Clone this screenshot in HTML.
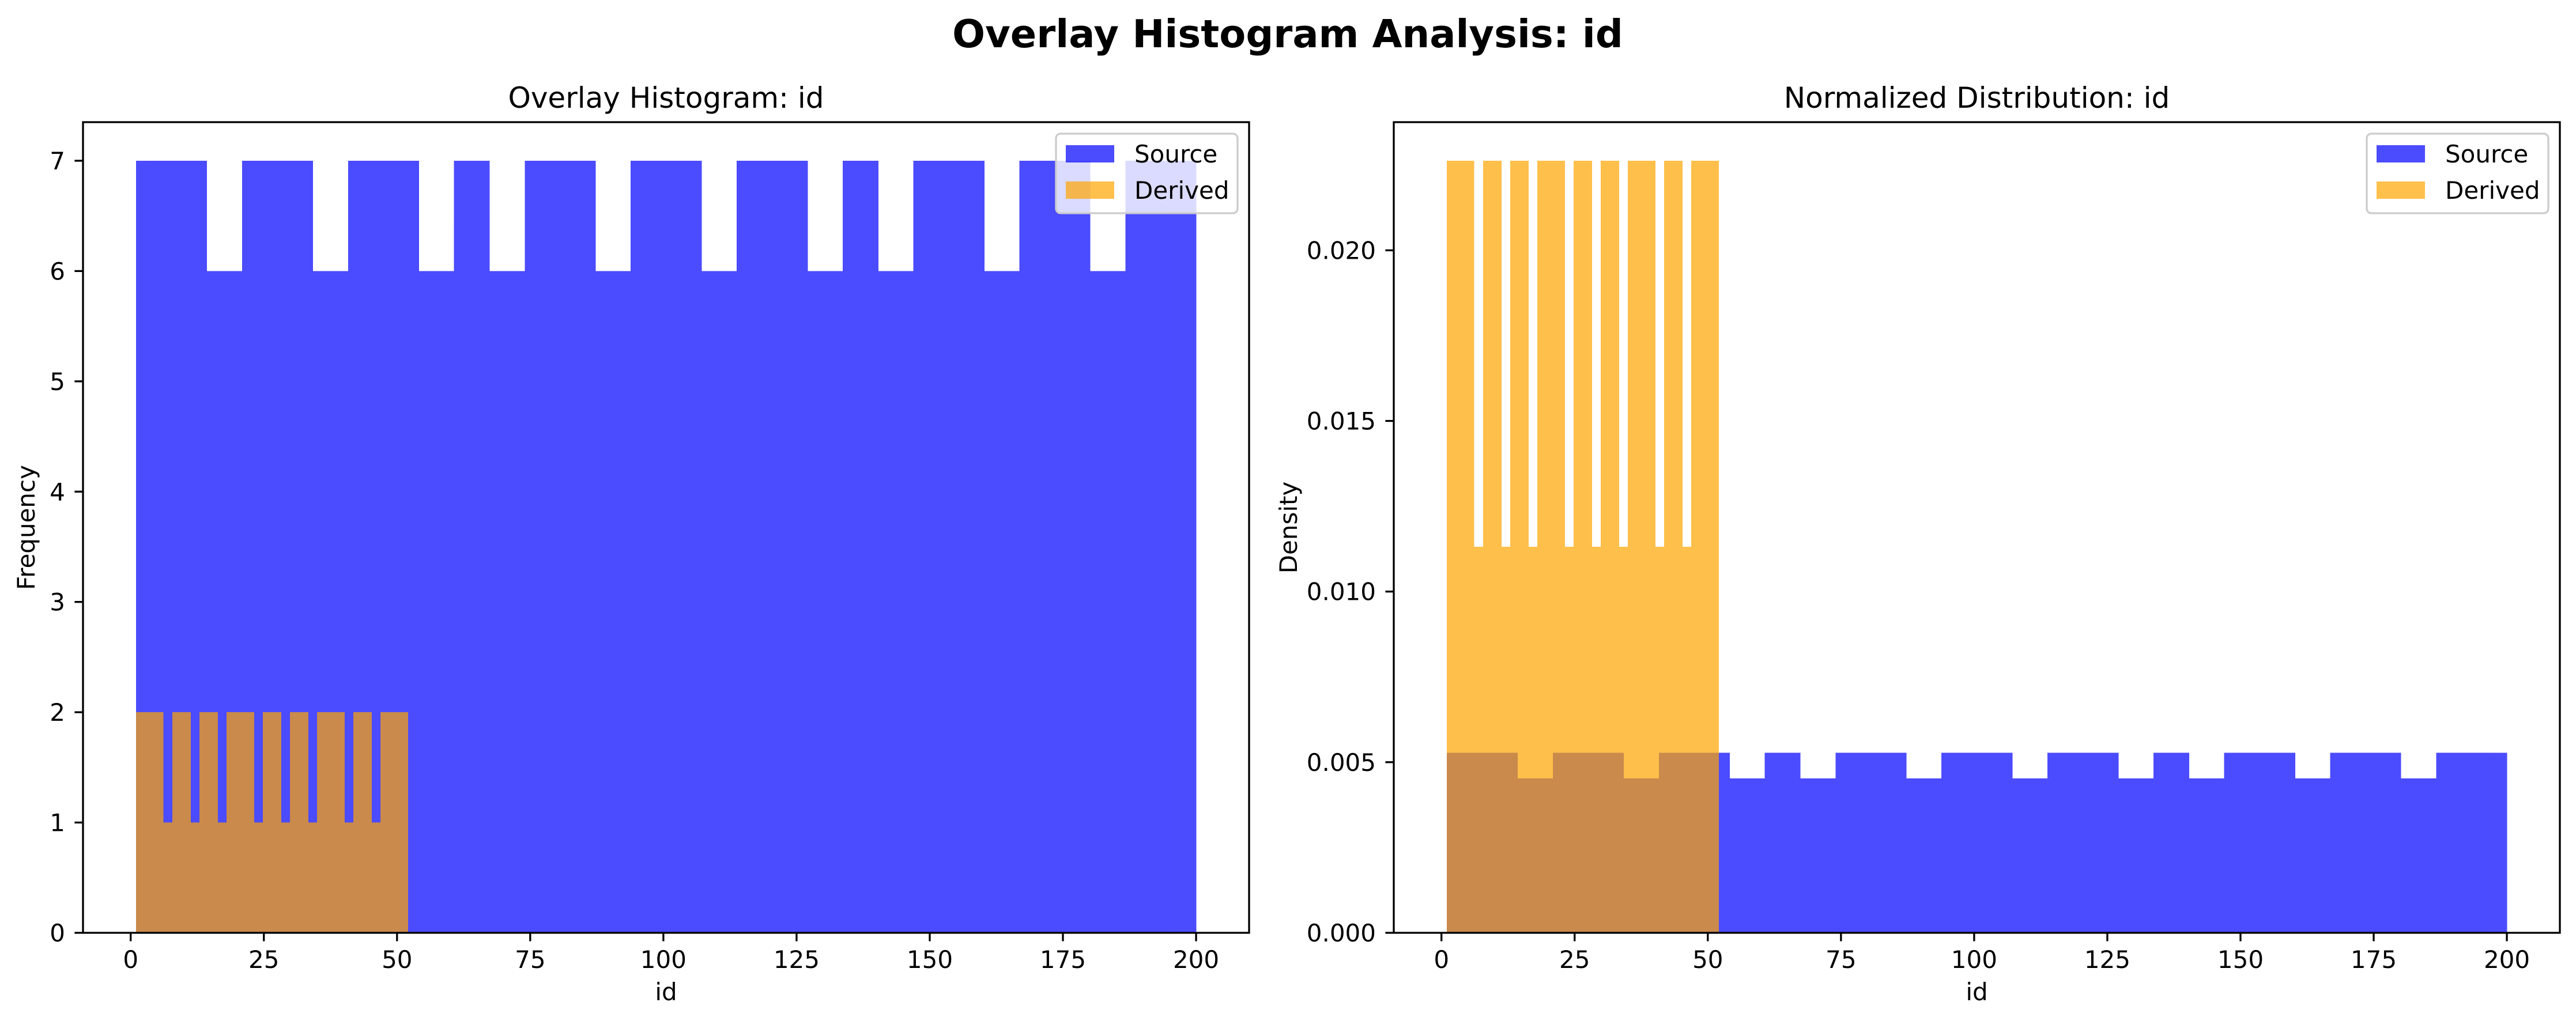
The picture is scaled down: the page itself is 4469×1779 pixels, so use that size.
<!DOCTYPE html>
<html><head><meta charset="utf-8"><style>html,body{margin:0;padding:0;background:#fff}svg{display:block}text{font-family:"DejaVu Sans","Liberation Sans",sans-serif;fill:#000}</style></head>
<body>
<svg id="fig" xmlns="http://www.w3.org/2000/svg" width="4469" height="1779" viewBox="0 0 4469 1779">
<rect width="4469" height="1779" fill="#fff"/>
<text x="2234" y="82" font-size="67" font-weight="bold" text-anchor="middle">Overlay Histogram Analysis: id</text>
<g id="left"></g>
<g id="right"></g>
</svg>
<script>
// Data
const sourceCounts = [7,7,6,7,7,6,7,7,6,7,6,7,7,6,7,7,6,7,7,6,7,6,7,7,6,7,7,6,7,7];
const derivedCounts = [2,2,2,1,2,2,1,2,2,1,2,2,2,1,2,2,1,2,2,1,2,2,2,1,2,2,1,2,2,2];
const sourceRange = [1,200];
const derivedRange = [1,52];
const sourceN = 200;
const derivedN = 52;
const xTicks = [0,25,50,75,100,125,150,175,200];
const yTicksLeft = [0,1,2,3,4,5,6,7];
const yTicksRight = [0,0.005,0.010,0.015,0.020];
const yTickLabelsRight = ["0.000","0.005","0.010","0.015","0.020"];
const legendLabels = ["Source","Derived"];

const NS="http://www.w3.org/2000/svg";
function mk(parent,tag,attrs){const e=document.createElementNS(NS,tag);for(const k in attrs)e.setAttribute(k,attrs[k]);parent.appendChild(e);return e;}

function panel(g,left,right,title,ylabel,ylabelX,density,yTicks,yLabels){
  const top=212,bottom=1619;
  const nb=sourceCounts.length;
  const sw=(sourceRange[1]-sourceRange[0])/nb, dw=(derivedRange[1]-derivedRange[0])/derivedCounts.length;
  const sv=sourceCounts.map(c=>density?c/(sourceN*sw):c);
  const dv=derivedCounts.map(c=>density?c/(derivedN*dw):c);
  const ymax=Math.max(...sv,...dv)*1.05;
  const xmin=sourceRange[0]-0.05*(sourceRange[1]-sourceRange[0]), xmax=sourceRange[1]+0.05*(sourceRange[1]-sourceRange[0]);
  const X=v=>left+(v-xmin)/(xmax-xmin)*(right-left);
  const Y=v=>bottom-v/ymax*(bottom-top);
  const sg=mk(g,'g',{opacity:0.7,fill:'#0000ff','shape-rendering':'crispEdges'});
  
  
  sv.forEach((v,i)=>{
    const x0=X(sourceRange[0]+i*sw), x1=X(sourceRange[0]+(i+1)*sw);
    const r=mk(sg,'rect',{x:x0,y:Y(v),width:x1-x0+0.6,height:bottom-Y(v)});
    
    
  });
  const dg=mk(g,'g',{opacity:0.7,fill:'#ffa500','shape-rendering':'crispEdges'});
  
  
  dv.forEach((v,i)=>{
    const x0=X(derivedRange[0]+i*dw), x1=X(derivedRange[0]+(i+1)*dw);
    const r=mk(dg,'rect',{x:x0,y:Y(v),width:x1-x0+0.6,height:bottom-Y(v)});
    
    
  });
  const fr=mk(g,'rect',{x:left,y:top,width:right-left,height:bottom-top,fill:'none',stroke:'#000','stroke-width':3.3});
  
  
  xTicks.forEach(t=>{
    const x=X(t);
    const l=mk(g,'line',{x1:x,x2:x,y1:bottom,y2:bottom+14.6,stroke:'#000','stroke-width':3.3});
    
    
    const tx=mk(g,'text',{x:x,y:1680,'font-size':42,'text-anchor':'middle'});
    tx.textContent=t;
    
    
  });
  yTicks.forEach((t,i)=>{
    const y=Y(t);
    const l=mk(g,'line',{x1:left-14.6,x2:left,y1:y,y2:y,stroke:'#000','stroke-width':3.3});
    
    
    const tx=mk(g,'text',{x:left-31,y:y+15,'font-size':42,'text-anchor':'end'});
    tx.textContent=yLabels[i];
    
    
  });
  const cx=(left+right)/2;
  const tt=mk(g,'text',{x:cx,y:187,'font-size':50,'text-anchor':'middle'});
  tt.textContent=title;
  
  
  const xl=mk(g,'text',{x:cx,y:1736,'font-size':42,'text-anchor':'middle'});
  xl.textContent='id';
  
  
  const yl=mk(g,'text',{x:ylabelX,y:(top+bottom)/2,'font-size':42,'text-anchor':'middle',transform:`rotate(-90 ${ylabelX} ${(top+bottom)/2})`});
  yl.textContent=ylabel;
  
  
  // legend
  const lr=right-20, ll=lr-315;
  const lg=mk(g,'g',{});
  
  
  mk(lg,'rect',{x:ll,y:232,width:315,height:138,rx:8,fill:'#fff','fill-opacity':0.8,stroke:'#cccccc','stroke-width':3.3});
  const cols=['#0000ff','#ffa500'];
  legendLabels.forEach((lab,i)=>{
    const py=252+i*63;
    const p=mk(lg,'rect',{x:ll+17,y:py,width:84,height:30,fill:cols[i],'fill-opacity':0.7});
    
    
    const t=mk(lg,'text',{x:ll+136,y:py+30,'font-size':42});
    t.textContent=lab;
    
    
  });
}
panel(document.getElementById('left'),144,2167,'Overlay Histogram: id','Frequency',60,false,yTicksLeft,yTicksLeft.map(String));
panel(document.getElementById('right'),2418,4441,'Normalized Distribution: id','Density',2250,true,yTicksRight,yTickLabelsRight);
</script>
</body></html>
